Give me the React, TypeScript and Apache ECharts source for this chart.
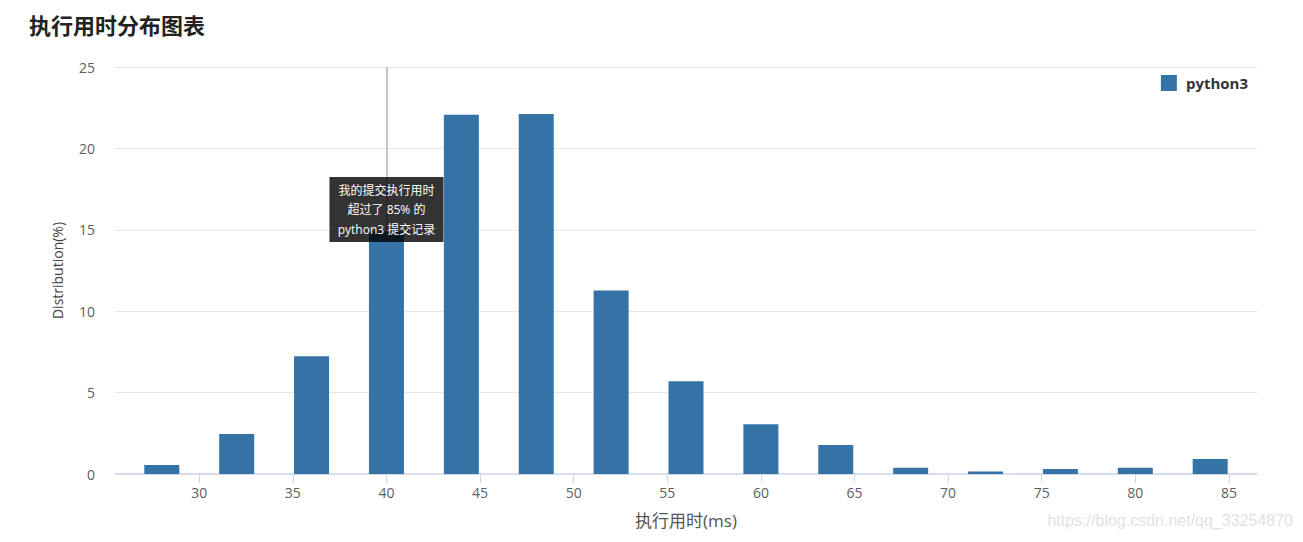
import React, { useEffect, useRef } from "react";
import * as echarts from "echarts";

const titleText = "执行用时分布图表";
const seriesName = "python3";
const xTicks = [30, 35, 40, 45, 50, 55, 60, 65, 70, 75, 80, 85];
const bins = [28, 32, 36, 40, 44, 48, 52, 56, 60, 64, 68, 72, 76, 80, 84];
const values = [0.55, 2.45, 7.23, 14.9, 22.06, 22.12, 11.27, 5.7, 3.06, 1.78, 0.39, 0.16, 0.31, 0.39, 0.92];
const myTime = 40;
const noteText = "我的提交执行用时\n超过了 85% 的\npython3 提交记录";
const watermark = "https://blog.csdn.net/qq_33254870";

const FONT = "'Open Sans', 'Noto Sans CJK SC', sans-serif";

export default function App() {
  const ref = useRef<HTMLDivElement>(null);
  useEffect(() => {
    const chart = echarts.init(ref.current!, null, { renderer: "svg" });
    const myIdx = bins.indexOf(myTime);
    chart.setOption({
      animation: false,
      textStyle: { fontFamily: FONT },
      title: {
        text: titleText,
        left: 16,
        top: 0,
        textStyle: { fontSize: 22, fontWeight: "bold", color: "#222", fontFamily: "'Noto Sans CJK SC', sans-serif" },
      },
      legend: {
        right: 42,
        top: 62,
        icon: "rect",
        itemWidth: 16,
        itemHeight: 16,
        textStyle: { fontSize: 15, fontWeight: "bold", color: "#333", padding: [0, 0, 0, 4] },
        data: [seriesName],
      },
      grid: { left: 107, right: 38, top: 59, bottom: 59, containLabel: false },
      xAxis: {
        type: "value",
        min: 25.5,
        max: 86.5,
        name: "执行用时(ms)",
        nameLocation: "middle",
        nameGap: 38,
        nameTextStyle: { fontSize: 17, color: "#555" },
        axisLine: { show: true, lineStyle: { color: "#ccd6eb", width: 1.5 } },
        axisTick: { show: true, length: 9, lineStyle: { color: "#ccd6eb" }, customValues: xTicks },
        axisLabel: { color: "#606060", fontSize: 14, margin: 11, customValues: xTicks },
        splitLine: { show: false },
      },
      yAxis: {
        type: "value",
        min: 0,
        max: 25,
        interval: 5,
        name: "Distribution(%)",
        nameLocation: "middle",
        nameGap: 51,
        nameTextStyle: { fontSize: 14, color: "#444" },
        axisLine: { show: false },
        axisTick: { show: false },
        axisLabel: { color: "#606060", fontSize: 14, margin: 20 },
        splitLine: { lineStyle: { color: "#e6e6e6" } },
      },
      series: [
        {
          name: seriesName,
          type: "bar",
          barWidth: 35,
          itemStyle: { color: "#3573a6" },
          data: bins.map((b, i) => [b, values[i]]),
          markLine: {
            silent: true,
            symbol: "none",
            label: { show: false },
            lineStyle: { color: "#b4b4b4", width: 1.5, type: "solid" },
            data: [[{ coord: [myTime, 25] }, { coord: [myTime, values[myIdx]] }]],
          },
          markPoint: {
            silent: true,
            symbol: "rect",
            symbolSize: [114, 65],
            itemStyle: { color: "rgba(0,0,0,0.8)" },
            label: {
              show: true,
              position: "inside",
              color: "#fff",
              fontSize: 12,
              lineHeight: 19.5,
              align: "center",
              formatter: noteText,
              fontFamily: FONT,
            },
            data: [{ coord: [myTime, 16.24] }],
          },
        },
      ],
      graphic: [
        {
          type: "text",
          right: 2,
          bottom: 6,
          style: { text: watermark, fontSize: 16, fill: "#e2e2e2", fontFamily: "Arial, sans-serif" },
        },
      ],
    });
    return () => chart.dispose();
  }, []);
  return <div ref={ref} style={{ width: 1287, height: 526 }} />;
}
